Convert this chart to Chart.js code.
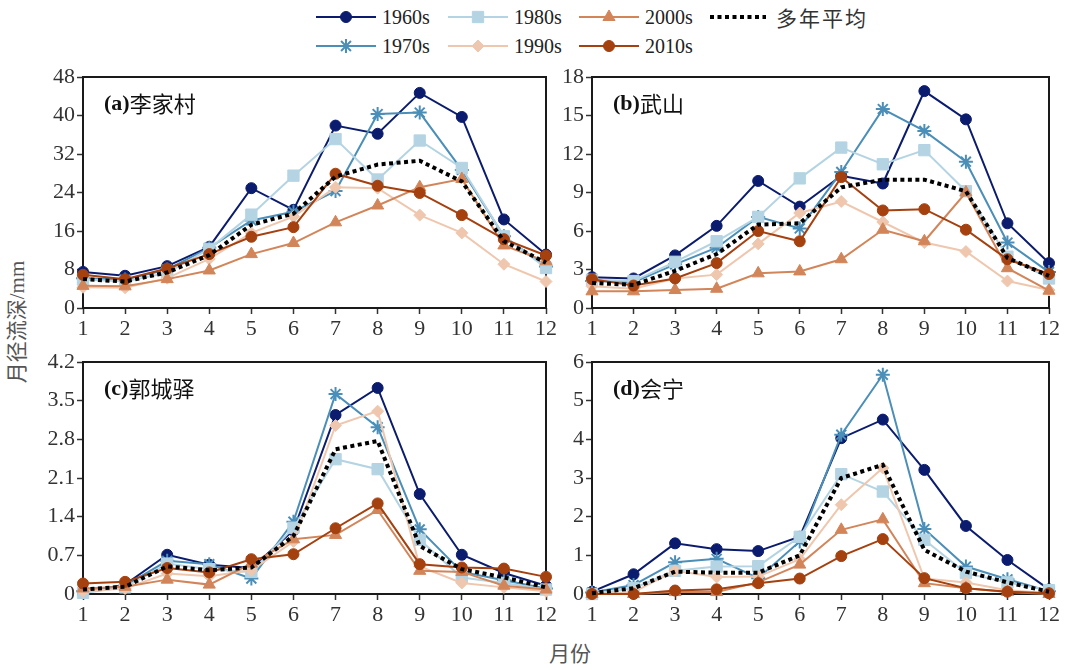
<!DOCTYPE html>
<html>
<head>
<meta charset="utf-8">
<script src="https://cdn.jsdelivr.net/npm/chart.js@4.4.0/dist/chart.umd.min.js"></script>
<style>
    body { margin: 0; background: #fff; width: 1069px; height: 670px; position: relative; overflow: hidden; }
    canvas.panel { position: absolute; }
    .leg-item { position: absolute; height: 24px; display: flex; align-items: center; }
    .leg-item span { font: 20px "Liberation Serif", "Noto Sans CJK SC", serif; color: #222; margin-left: 6px; white-space: nowrap; }
    .leg-item span.cjk { font: 21px "Noto Sans CJK SC", sans-serif; color: #333; letter-spacing: 2px; margin-left: 10px; }
    #ylabel { position: absolute; left: 15px; top: 322px; transform: translate(-50%, -50%) rotate(-90deg);
              font: 21px "Liberation Serif", "Noto Sans CJK SC", serif; color: #555; white-space: nowrap; }
    #xlabel { position: absolute; left: 570px; top: 652px; transform: translate(-50%, -50%);
              font: 21px "Noto Sans CJK SC", sans-serif; color: #555; white-space: nowrap; }
</style>
</head>
<body>
<div id="legend"></div>
<canvas id="panel-a" class="panel"></canvas>
<canvas id="panel-b" class="panel"></canvas>
<canvas id="panel-c" class="panel"></canvas>
<canvas id="panel-d" class="panel"></canvas>
<div id="ylabel">月径流深/mm</div>
<div id="xlabel">月份</div>

<script>
// 月份
const months = ['1', '2', '3', '4', '5', '6', '7', '8', '9', '10', '11', '12'];
const decades = ['1960s', '1970s', '1980s', '1990s', '2000s', '2010s', '多年平均'];

// (a) 李家村
const lj1960 = [7.5, 6.7, 8.7, 12.7, 24.9, 20.4, 37.9, 36.2, 44.7, 39.7, 18.4, 11.1];
const lj1970 = [6.2, 5.9, 8.0, 12.5, 18.2, 20.0, 24.3, 40.3, 40.6, 28.7, 14.9, 8.6];
const lj1980 = [5.9, 5.5, 7.3, 12.3, 19.4, 27.5, 35.1, 26.7, 34.8, 29.1, 14.9, 8.3];
const lj1990 = [4.3, 4.2, 6.2, 10.2, 15.6, 19.0, 25.1, 24.9, 19.3, 15.6, 9.1, 5.5];
const lj2000 = [4.6, 4.5, 6.0, 7.8, 11.2, 13.5, 17.8, 21.3, 25.1, 26.8, 13.0, 9.7];
const lj2010 = [6.9, 6.0, 8.2, 11.2, 14.8, 16.8, 27.9, 25.4, 23.9, 19.3, 14.3, 10.9];
const ljMean = [6.0, 5.5, 7.4, 11.0, 17.3, 19.6, 27.3, 29.8, 30.6, 26.3, 13.9, 9.4];

// (b) 武山
const ws1960 = [2.4, 2.3, 4.1, 6.4, 9.9, 7.9, 10.3, 9.7, 16.9, 14.7, 6.6, 3.5];
const ws1970 = [2.1, 2.0, 3.4, 4.7, 7.1, 6.2, 10.6, 15.5, 13.8, 11.4, 5.1, 2.8];
const ws1980 = [2.2, 2.1, 3.6, 5.2, 7.1, 10.1, 12.5, 11.2, 12.3, 9.1, 4.0, 2.3];
const ws1990 = [1.7, 1.5, 2.3, 2.6, 5.0, 7.4, 8.3, 6.7, 5.1, 4.4, 2.1, 1.4];
const ws2000 = [1.3, 1.3, 1.4, 1.5, 2.7, 2.85, 3.8, 6.1, 5.2, 9.0, 3.1, 1.35];
const ws2010 = [2.25, 1.75, 2.3, 3.5, 6.0, 5.2, 10.2, 7.6, 7.7, 6.1, 3.8, 2.65];
const wsMean = [1.95, 1.8, 2.9, 4.2, 6.5, 6.6, 9.4, 10.0, 10.0, 9.1, 3.9, 2.5];

// (c) 郭城驿
const gc1960 = [0.03, 0.17, 0.71, 0.53, 0.47, 1.15, 3.24, 3.73, 1.81, 0.71, 0.38, 0.15];
const gc1970 = [0.05, 0.15, 0.6, 0.54, 0.28, 1.31, 3.62, 3.02, 1.17, 0.4, 0.25, 0.1];
const gc1980 = [0.02, 0.12, 0.55, 0.45, 0.4, 1.2, 2.44, 2.26, 0.98, 0.3, 0.2, 0.08];
const gc1990 = [0.05, 0.1, 0.37, 0.32, 0.43, 0.95, 3.05, 3.31, 0.5, 0.2, 0.12, 0.05];
const gc2000 = [0.1, 0.13, 0.26, 0.17, 0.55, 0.99, 1.07, 1.52, 0.42, 0.4, 0.15, 0.08];
const gc2010 = [0.19, 0.22, 0.47, 0.39, 0.63, 0.72, 1.19, 1.64, 0.54, 0.48, 0.46, 0.31];
const gcMean = [0.08, 0.13, 0.5, 0.43, 0.48, 1.05, 2.62, 2.77, 0.87, 0.45, 0.3, 0.12];

// (d) 会宁
const hn1960 = [0.06, 0.51, 1.31, 1.16, 1.11, 1.48, 4.03, 4.51, 3.21, 1.76, 0.88, 0.12];
const hn1970 = [0.04, 0.23, 0.82, 0.91, 0.41, 1.36, 4.12, 5.67, 1.68, 0.71, 0.38, 0.07];
const hn1980 = [0.0, 0.15, 0.6, 0.71, 0.72, 1.48, 3.1, 2.65, 1.4, 0.54, 0.3, 0.1];
const hn1990 = [0.0, 0.05, 0.6, 0.44, 0.45, 0.9, 2.31, 3.26, 0.4, 0.3, 0.1, 0.02];
const hn2000 = [0.0, 0.0, 0.05, 0.05, 0.3, 0.76, 1.66, 1.93, 0.28, 0.15, 0.05, 0.0];
const hn2010 = [0.0, 0.0, 0.09, 0.12, 0.28, 0.4, 0.98, 1.42, 0.41, 0.15, 0.06, 0.02];
const hnMean = [0.02, 0.15, 0.58, 0.55, 0.55, 1.0, 3.0, 3.34, 1.14, 0.58, 0.3, 0.06];

// 各年代的线型
const styles = [
    { color: '#0b1c6e', point: 'circle',   radius: 5.5, pw: 1 },
    { color: '#4b8fb8', point: 'star',     radius: 7,   pw: 2 },
    { color: '#b4d4e3', point: 'rect',     radius: 8,   pw: 1 },
    { color: '#efc7ae', point: 'rectRot',  radius: 6,   pw: 1 },
    { color: '#d3855a', point: 'triangle', radius: 7,   pw: 1 },
    { color: '#a5400f', point: 'circle',   radius: 5.5, pw: 1 },
    { color: '#000000', point: false,      radius: 0,   pw: 0 }
];

const TICK_FONT = { family: 'Liberation Serif', size: 22 };

// 坐标框和子图标题
const panelDecor = {
    id: 'panelDecor',
    beforeDatasetsDraw(chart, args, opts) {
        const { ctx, chartArea: a } = chart;
        ctx.save();
        ctx.strokeStyle = '#1a1a1a';
        ctx.lineWidth = 2;
        ctx.strokeRect(a.left, a.top, a.right - a.left, a.bottom - a.top);
        ctx.fillStyle = '#111';
        ctx.textBaseline = 'middle';
        ctx.font = 'bold 22px "Liberation Serif"';
        ctx.fillText(opts.tag, a.left + 21, a.top + 27);
        const w = ctx.measureText(opts.tag).width;
        ctx.font = '22px "Noto Sans CJK SC"';
        ctx.fillText(opts.name, a.left + 21 + w, a.top + 27);
        ctx.restore();
    }
};

function buildDataset(values, i) {
    const s = styles[i];
    const ds = {
        label: decades[i],
        data: values,
        borderColor: s.color,
        backgroundColor: s.color,
        borderWidth: 2,
        pointStyle: s.point,
        pointRadius: s.radius,
        pointBorderWidth: s.pw,
        pointBackgroundColor: s.color,
        pointBorderColor: s.color,
        tension: 0,
        clip: false,
        order: 6 - i
    };
    if (i === 6) {
        ds.borderWidth = 4;
        ds.borderDash = [4, 3.5];
    }
    return ds;
}

function makePanel(id, area, yMax, yStep, tag, name, series) {
    const m = { l: 53, r: 16, t: 17, b: 37 };
    const canvas = document.getElementById(id);
    canvas.width = area.w + m.l + m.r;
    canvas.height = area.h + m.t + m.b;
    canvas.style.left = (area.x - m.l) + 'px';
    canvas.style.top = (area.y - m.t) + 'px';

    return new Chart(canvas.getContext('2d'), {
        type: 'line',
        data: {
            labels: months,
            datasets: series.map(buildDataset)
        },
        options: {
            responsive: false,
            animation: false,
            layout: { padding: { left: 0, right: m.r, top: m.t, bottom: 0 } },
            plugins: {
                legend: { display: false },
                tooltip: { enabled: false },
                panelDecor: { tag: tag, name: name }
            },
            scales: {
                x: {
                    type: 'category',
                    offset: false,
                    border: { display: false },
                    grid: { drawOnChartArea: false, drawTicks: true, tickLength: 6, color: '#333', tickWidth: 1.5 },
                    ticks: { font: TICK_FONT, color: '#333', padding: 2, maxRotation: 0, autoSkip: false },
                    afterFit: s => { s.height = m.b; s.paddingLeft = 0; s.paddingRight = 0; }
                },
                y: {
                    min: 0,
                    max: yMax,
                    border: { display: false },
                    grid: { drawOnChartArea: false, drawTicks: true, tickLength: 6, color: '#333', tickWidth: 1.5 },
                    ticks: {
                        stepSize: yStep,
                        font: TICK_FONT,
                        color: '#333',
                        padding: 2,
                        callback: v => (v === 0 ? '0' : String(+v.toFixed(1)))
                    },
                    afterFit: s => { s.width = m.l; s.paddingTop = 0; s.paddingBottom = 0; }
                }
            }
        },
        plugins: [panelDecor]
    });
}

makePanel('panel-a', { x: 83, y: 77, w: 463, h: 231 }, 48, 8, '(a)', '李家村',
    [lj1960, lj1970, lj1980, lj1990, lj2000, lj2010, ljMean]);
makePanel('panel-b', { x: 592, y: 77, w: 457, h: 231 }, 18, 3, '(b)', '武山',
    [ws1960, ws1970, ws1980, ws1990, ws2000, ws2010, wsMean]);
makePanel('panel-c', { x: 83, y: 362, w: 463, h: 232 }, 4.2, 0.7, '(c)', '郭城驿',
    [gc1960, gc1970, gc1980, gc1990, gc2000, gc2010, gcMean]);
makePanel('panel-d', { x: 592, y: 362, w: 457, h: 232 }, 6, 1, '(d)', '会宁',
    [hn1960, hn1970, hn1980, hn1990, hn2000, hn2010, hnMean]);

// 图例：两行，按列排列
const legendSlots = [
    { i: 0, x: 316, y: 17 }, { i: 2, x: 448, y: 17 }, { i: 4, x: 579, y: 17 }, { i: 6, x: 710, y: 17 },
    { i: 1, x: 316, y: 46 }, { i: 3, x: 448, y: 46 }, { i: 5, x: 579, y: 46 }
];

const legend = document.getElementById('legend');
legendSlots.forEach(slot => {
    const s = styles[slot.i];
    const len = slot.i === 6 ? 56 : 60;
    const item = document.createElement('div');
    item.className = 'leg-item';
    item.style.left = slot.x + 'px';
    item.style.top = (slot.y - 12) + 'px';

    const c = document.createElement('canvas');
    c.width = len;
    c.height = 20;
    const ctx = c.getContext('2d');
    ctx.strokeStyle = s.color;
    ctx.fillStyle = s.color;
    if (slot.i === 6) {
        ctx.lineWidth = 4;
        ctx.setLineDash([4, 3.5]);
    } else {
        ctx.lineWidth = 2;
    }
    ctx.beginPath();
    ctx.moveTo(0, 10);
    ctx.lineTo(len, 10);
    ctx.stroke();
    ctx.setLineDash([]);
    if (s.point) {
        ctx.lineWidth = s.pw;
        Chart.helpers.drawPoint(ctx, { pointStyle: s.point, radius: s.radius, borderWidth: s.pw, rotation: 0 }, len / 2, 10);
    }
    item.appendChild(c);

    const label = document.createElement('span');
    label.textContent = decades[slot.i];
    if (slot.i === 6) label.className = 'cjk';
    item.appendChild(label);
    legend.appendChild(item);
});
</script>
</body>
</html>
